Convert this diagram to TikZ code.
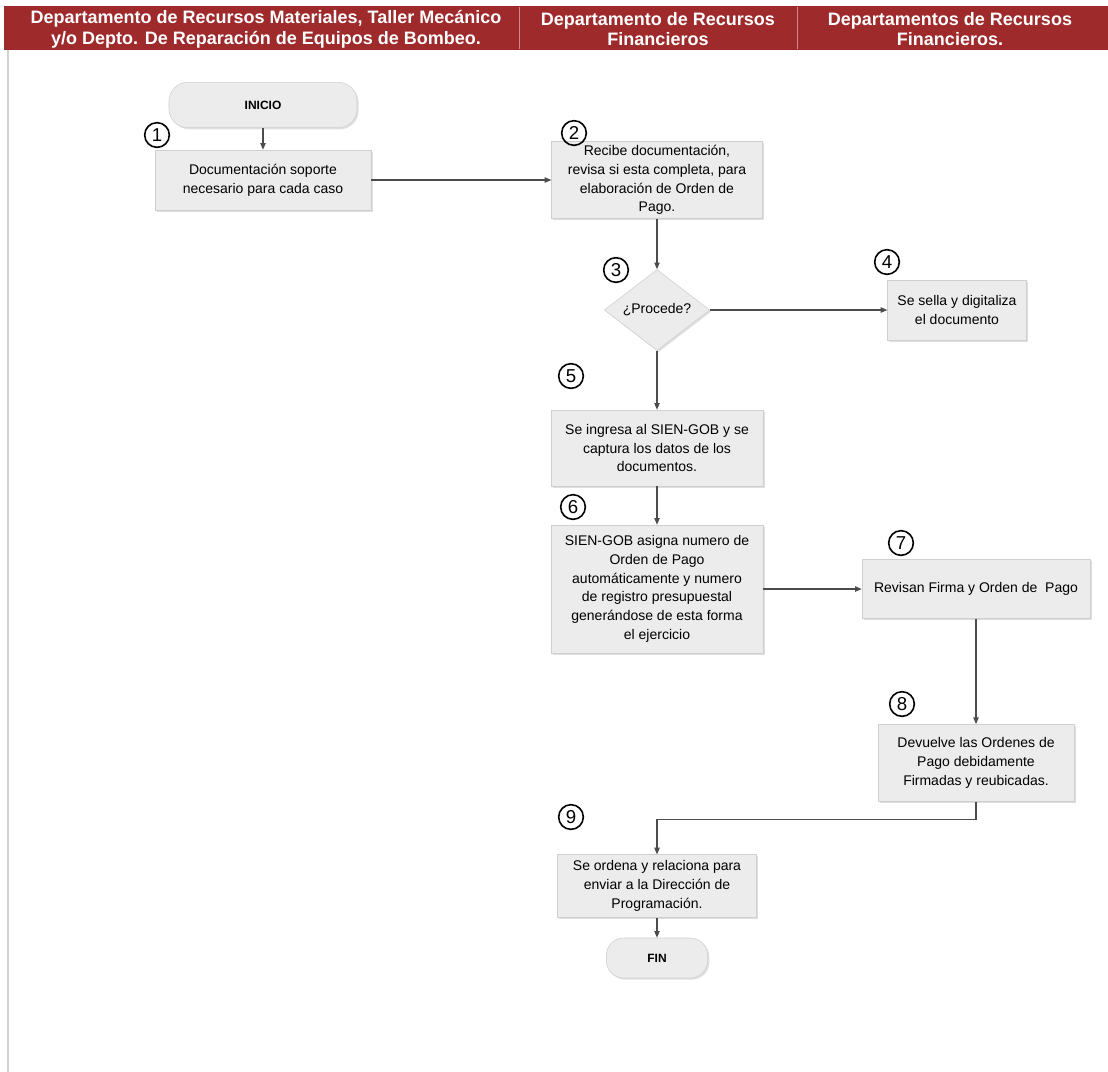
\documentclass[tikz,border=0pt]{standalone}
\usepackage{fontspec}
\setmainfont{Liberation Sans}
\usetikzlibrary{arrows.meta,shapes.geometric,shadows}
\definecolor{HeadRed}{HTML}{9E2A2B}
\definecolor{BoxGray}{HTML}{ECECEC}
\definecolor{EdgeGray}{HTML}{CFCFCF}
\tikzset{box/.style={draw=EdgeGray,fill=BoxGray,align=center,inner sep=2pt,font=\fontsize{10.5}{14}\selectfont,drop shadow={fill=black!25,shadow xshift=1.2pt,shadow yshift=-1.2pt}},
term/.style={box,rounded corners=14pt,font=\fontsize{9}{10}\bfseries},
dec/.style={box,diamond,inner sep=0pt},
num/.style={circle,draw,line width=1.2pt,inner sep=0pt,minimum size=18.5pt,font=\fontsize{14}{14}\selectfont},
head/.style={text=white,align=center,font=\fontsize{13.5}{15.5}\bfseries},
arr/.style={-{Triangle[length=5pt,width=4pt]},line width=0.8pt,black!70}}

\begin{document}
\begin{tikzpicture}[x=0.75pt,y=-0.75pt]
\useasboundingbox (0,0) rectangle (1108,1072);
\fill[HeadRed] (4,6) rectangle (1108,50);
\draw[HeadRed!55!white,line width=0.6pt] (519,7)--(519,49) (797,7)--(797,49);
\draw[black!18,line width=1.5pt] (8,50)--(8,1072);
\node[head] (h1) at (266,29) {Departamento de Recursos Materiales, Taller Mecánico\\y/o Depto. De Reparación de Equipos de Bombeo.};
\node[head] (h2) at (658,29) {Departamento de Recursos\\Financieros};
\node[head] (h3) at (950,29) {Departamentos de Recursos\\Financieros.};

\node[term,minimum width=141pt,minimum height=34pt] (inicio) at (263,105) {INICIO};
\node[box,minimum width=162pt,minimum height=45pt] (doc) at (263,180) {Documentación soporte\\necesario para cada caso};
\node[box,minimum width=158pt,minimum height=58pt] (recibe) at (657,180) {Recibe documentación,\\revisa si esta completa, para\\elaboración de Orden de\\Pago.};
\node[dec,minimum width=79pt,minimum height=44pt] (procede) at (657,310) {¿Procede?};
\node[box,minimum width=104pt,minimum height=45pt] (sella) at (957,310) {Se sella y digitaliza\\el documento};
\node[box,minimum width=159pt,minimum height=57pt] (ingresa) at (657,448) {Se ingresa al SIEN-GOB y se\\captura los datos de los\\documentos.};
\node[box,minimum width=159pt,minimum height=96pt] (asigna) at (657,589) {SIEN-GOB asigna numero de\\Orden de Pago\\automáticamente y numero\\de registro presupuestal\\generándose de esta forma\\el ejercicio};
\node[box,minimum width=171pt,minimum height=44pt] (revisan) at (976,589) {Revisan Firma y Orden de\ \ Pago};
\node[box,minimum width=147pt,minimum height=58pt] (devuelve) at (976,763) {Devuelve las Ordenes de\\Pago debidamente\\Firmadas y reubicadas.};
\node[box,minimum width=149pt,minimum height=47pt] (ordena) at (657,886) {Se ordena y relaciona para\\enviar a la Dirección de\\Programación.};
\node[term,minimum width=76pt,minimum height=30pt,rounded corners=13pt] (fin) at (657,958) {FIN};

\node[num] (n1) at (157,135) {1};
\node[num] (n2) at (574,133) {2};
\node[num] (n3) at (616,270) {3};
\node[num] (n4) at (887,262) {4};
\node[num] (n5) at (571,376) {5};
\node[num] (n6) at (573,507) {6};
\node[num] (n7) at (901,543) {7};
\node[num] (n8) at (902,704) {8};
\node[num] (n9) at (571,817) {9};

\draw[arr] (inicio)--(doc); \draw[arr] (doc)--(recibe); \draw[arr] (recibe)--(procede);
\draw[arr] (procede)--(sella); \draw[arr] (procede)--(ingresa); \draw[arr] (ingresa)--(asigna);
\draw[arr] (asigna)--(revisan); \draw[arr] (revisan)--(devuelve);
\draw[arr] (devuelve.south)--++(0,18)-|(ordena.north); \draw[arr] (ordena)--(fin);
\end{tikzpicture}
\end{document}
